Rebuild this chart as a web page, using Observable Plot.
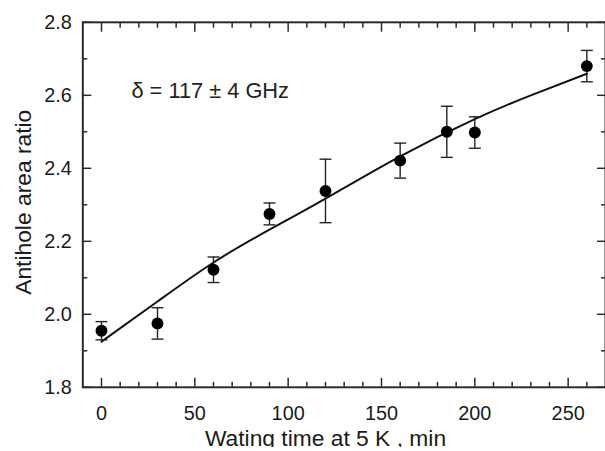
<!DOCTYPE html>
<html>
<head>
<meta charset="utf-8">
<script src="https://cdn.jsdelivr.net/npm/d3@7"></script>
<script src="https://cdn.jsdelivr.net/npm/@observablehq/plot@0.6"></script>
<style>
  html, body { margin: 0; padding: 0; background: #fff; }
  #chart { width: 605px; height: 451px; overflow: hidden; }
  svg { font-family: "Liberation Sans", Arial, sans-serif; }
</style>
</head>
<body>
<div id="chart"></div>
<script>
// Measured data
const waitTime   = [0, 30, 60, 90, 120, 160, 185, 200, 260];
const areaRatio  = [1.955, 1.975, 2.122, 2.275, 2.338, 2.421, 2.500, 2.498, 2.680];
const errorBar   = [0.025, 0.043, 0.035, 0.030, 0.087, 0.048, 0.070, 0.043, 0.043];

// Fitted curve
const fitTime    = [0, 30, 60, 90, 120, 160, 200, 230, 260];
const fitRatio   = [1.925, 2.035, 2.142, 2.232, 2.317, 2.433, 2.535, 2.600, 2.659];

// Ticks
const xMajor = [0, 50, 100, 150, 200, 250];
const xMinor = [10, 20, 30, 40, 60, 70, 80, 90, 110, 120, 130, 140, 160, 170, 180, 190, 210, 220, 230, 240, 260];
const yMajor = [1.8, 2.0, 2.2, 2.4, 2.6, 2.8];
const yMinor = [1.9, 2.1, 2.3, 2.5, 2.7];

const annotation = "δ = 117 ± 4 GHz";
const xTitle = "Wating time at 5 K , min";
const yTitle = "Antihole area ratio";

const points = waitTime.map((t, i) => ({t, r: areaRatio[i], lo: areaRatio[i] - errorBar[i], hi: areaRatio[i] + errorBar[i]}));
const fit = fitTime.map((t, i) => ({t, r: fitRatio[i]}));

const W = 610, H = 451, mL = 83, mR = 0, mT = 22, mB = 61;
const xDomain = [-10, 270], yDomain = [1.8, 2.8];
const pxX = (xDomain[1] - xDomain[0]) / (W - mL - mR);
const capHalf = 6 * pxX;
const ink = "#2a2a2a";

// Inward ticks: draw the standard outward axis ticks, shifted inside the frame by their own length
function inwardTicks(values, len) {
  const o = {tickSize: len, fill: "none", stroke: ink, strokeWidth: 1.5, label: null};
  return [
    Plot.axisX(values, {...o, anchor: "bottom", dy: -len}),
    Plot.axisX(values, {...o, anchor: "top", dy: len}),
    Plot.axisY(values === xMajor || values === xMinor ? [] : values, {...o, anchor: "left", dx: len}),
    Plot.axisY(values === xMajor || values === xMinor ? [] : values, {...o, anchor: "right", dx: -len})
  ];
}
function inwardX(values, len) {
  const o = {tickSize: len, fill: "none", stroke: ink, strokeWidth: 1.5, label: null};
  return [
    Plot.axisX(values, {...o, anchor: "bottom", dy: -len}),
    Plot.axisX(values, {...o, anchor: "top", dy: len})
  ];
}
function inwardY(values, len) {
  const o = {tickSize: len, fill: "none", stroke: ink, strokeWidth: 1.5, label: null};
  return [
    Plot.axisY(values, {...o, anchor: "left", dx: len}),
    Plot.axisY(values, {...o, anchor: "right", dx: -len})
  ];
}

const chart = Plot.plot({
  width: W,
  height: H,
  marginLeft: mL,
  marginRight: mR,
  marginTop: mT,
  marginBottom: mB,
  x: {domain: xDomain},
  y: {domain: yDomain},
  style: {fontFamily: "'Liberation Sans', Arial, sans-serif", color: "#222"},
  marks: [
    Plot.frame({stroke: ink, strokeWidth: 2, fill: "none"}),
    ...inwardX(xMinor, 5),
    ...inwardX(xMajor, 9),
    ...inwardY(yMinor, 5),
    ...inwardY(yMajor, 9),
    // Tick labels
    Plot.axisX(xMajor, {anchor: "bottom", tickSize: 0, tickPadding: 19, fontSize: 20, fill: "#1a1a1a", label: null}),
    Plot.axisY(yMajor, {anchor: "left", tickSize: 0, tickPadding: 11, fontSize: 20, fill: "#1a1a1a", label: null, tickFormat: d3.format(".1f")}),
    // Fit curve
    Plot.line(fit, {x: "t", y: "r", curve: "natural", stroke: "#111", strokeWidth: 2}),
    // Error bars
    Plot.ruleX(points, {x: "t", y1: "lo", y2: "hi", stroke: "#222", strokeWidth: 1.4}),
    Plot.link(points, {x1: d => d.t - capHalf, x2: d => d.t + capHalf, y1: "hi", y2: "hi", stroke: "#222", strokeWidth: 1.4}),
    Plot.link(points, {x1: d => d.t - capHalf, x2: d => d.t + capHalf, y1: "lo", y2: "lo", stroke: "#222", strokeWidth: 1.4}),
    // Points
    Plot.dot(points, {x: "t", y: "r", r: 6, fill: "#000", stroke: "none"}),
    // Annotation
    Plot.text([annotation], {frameAnchor: "top-left", lineAnchor: "middle", dx: 49, dy: 69, text: d => d, fontSize: 22, fill: "#222", textAnchor: "start"}),
    // Axis titles
    Plot.text([xTitle], {x: 120, frameAnchor: "bottom", lineAnchor: "middle", dy: 52, text: d => d, fontSize: 23, fill: "#1a1a1a", textAnchor: "middle"}),
    Plot.text([yTitle], {frameAnchor: "left", lineAnchor: "middle", dx: -60, y: 2.307, text: d => d, fontSize: 23, fill: "#1a1a1a", rotate: -90, textAnchor: "middle"})
  ]
});
document.getElementById("chart").appendChild(chart);
</script>
</body>
</html>
